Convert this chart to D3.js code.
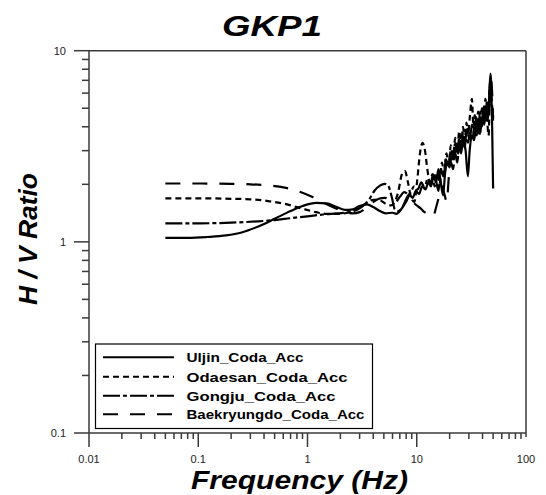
<!DOCTYPE html>
<html><head><meta charset="utf-8">
<script src="https://cdn.jsdelivr.net/npm/d3@7"></script>
<style>body{margin:0;background:#fff}svg{display:block}text{font-family:"Liberation Sans",Arial,sans-serif}</style>
</head><body>
<script>
const title = "GKP1";
const xLabel = "Frequency (Hz)";
const yLabel = "H / V Ratio";
const xTickVals = [0.01, 0.1, 1, 10, 100];
const xTickText = ["0.01", "0.1", "1", "10", "100"];
const yTickVals = [0.1, 1, 10];
const yTickText = ["0.1", "1", "10"];
const seriesNames = ["Uljin_Coda_Acc", "Odaesan_Coda_Acc", "Gongju_Coda_Acc", "Baekryungdo_Coda_Acc"];

const uljinF = [0.05,0.08,0.12,0.18,0.25,0.35,0.5,0.7,0.9,1.2,1.5,1.8,2.2,2.6,3.0,3.5,4.0,4.6,5.2,6.0,6.5,7.2,8.0,8.6,9.2,9.8,10.5,11.2,12,12.8,13.5,14.3,15,15.8,16.5,17.4,18.2,19,20,21,22,23,24,25,26,27,28,29.4,30.5,32,33.5,35,36.5,38,39.5,41,42.5,44,45.5,46.5,47.3,48,49,50];
const uljinV = [1.05,1.05,1.06,1.08,1.12,1.2,1.32,1.45,1.54,1.6,1.59,1.53,1.47,1.48,1.54,1.57,1.52,1.45,1.41,1.42,1.40,1.48,1.62,1.75,1.70,1.85,1.78,1.95,1.88,2.05,1.95,2.2,2.05,2.4,2.1,1.75,2.3,2.6,2.45,2.9,2.7,3.1,2.9,3.3,3.1,3.4,3.0,2.2,3.0,3.6,3.4,4.0,3.7,4.4,4.0,4.8,4.3,5.2,4.6,6.5,7.6,6.8,4.0,1.9];

const odaesanF = [0.05,0.1,0.2,0.3,0.45,0.65,0.9,1.2,1.5,1.9,2.3,2.7,3.1,3.5,4.0,4.6,5.2,5.8,6.3,6.8,7.3,7.8,8.3,8.9,9.5,10.1,10.7,11.3,11.9,12.5,13.2,13.9,14.6,15.4,16.2,17,17.8,18.7,19.6,20.5,21.5,22.5,23.5,24.5,25.5,26.5,27.5,28.5,29.5,30.5,32,33,34,35,36.5,38,39.5,41,42.5,44,45.5,47,48.5,50];
const odaesanV = [1.69,1.69,1.68,1.67,1.63,1.57,1.49,1.43,1.40,1.40,1.42,1.47,1.53,1.60,1.66,1.65,1.58,1.55,1.62,1.85,2.25,2.35,2.05,1.70,1.62,2.1,2.9,3.3,3.0,2.4,2.05,2.25,1.95,2.3,2.0,2.6,2.3,2.9,2.5,3.2,2.8,3.5,3.0,3.8,3.2,4.0,3.4,4.2,3.6,4.4,5.6,4.0,4.6,3.9,4.8,3.6,5.0,4.2,5.6,4.4,3.6,7.0,5.5,4.5];

const gongjuF = [0.05,0.1,0.2,0.35,0.5,0.7,1.0,1.4,1.9,2.4,2.9,3.3,3.7,4.1,4.6,5.1,5.5,5.9,6.3,6.8,7.4,8.1,8.8,9.5,10.2,11,11.8,12.6,13.4,14.2,15,15.8,16.6,17.5,18.5,19.5,20.5,21.5,22.5,23.5,24.5,25.5,26.5,27.5,29,30.5,32,33.5,35,36.5,38,39.5,41,42.5,44,45.5,47,48.5,50];
const gongjuV = [1.25,1.25,1.26,1.28,1.30,1.33,1.36,1.39,1.41,1.43,1.48,1.56,1.68,1.85,1.97,2.01,1.96,1.72,1.48,1.45,1.52,1.70,1.82,1.95,1.88,2.05,1.92,2.15,2.0,2.3,2.1,1.85,2.4,2.2,2.7,2.5,3.0,2.7,3.3,3.0,3.5,3.1,3.7,3.3,3.9,3.4,4.1,3.7,4.5,3.9,4.8,4.2,5.1,4.4,5.5,4.8,6.8,5.0,4.3];

const baekF = [0.05,0.1,0.2,0.3,0.45,0.65,0.85,1.1,1.4,1.8,2.2,2.6,3.0,3.4,3.9,4.5,5.1,5.7,6.3,7.0,7.7,8.4,9.2,10,10.8,11.6,12.5,13.4,14.3,15.2,16.1,17,17.9,18.8,19.7,20.6,21.5,22.5,23.5,24.5,25.5,26.5,27.5,28.5,29.5,31,32.5,34,35.5,37,38.5,40,41.5,43,44.5,46,47.5,49,50];
const baekV = [2.02,2.02,2.01,2.0,1.97,1.91,1.83,1.72,1.60,1.50,1.44,1.41,1.43,1.50,1.60,1.68,1.70,1.66,1.60,1.72,1.82,1.75,1.62,1.55,1.50,1.44,1.40,1.35,1.38,1.55,1.75,1.95,1.78,1.62,2.2,2.6,2.4,2.9,2.6,3.2,2.9,3.5,3.1,3.7,3.3,3.9,3.5,4.2,3.6,4.5,3.9,4.7,4.1,5.0,4.3,5.6,7.2,6.0,4.4];

const W = 546, H = 495;
const svg = d3.select("body").append("svg").attr("width", W).attr("height", H);
const x = d3.scaleLog().domain([0.01, 100]).range([89, 526]);
const y = d3.scaleLog().domain([0.1, 10]).range([433, 50.7]);

const series = [
  {name: seriesNames[0], f: uljinF, v: uljinV, dash: null},
  {name: seriesNames[1], f: odaesanF, v: odaesanV, dash: "6,4"},
  {name: seriesNames[2], f: gongjuF, v: gongjuV, dash: "17,3,4,3"},
  {name: seriesNames[3], f: baekF, v: baekV, dash: "15,12"}
];

const line = d3.line().x(d => x(d[0])).y(d => y(d[1])).curve(d3.curveMonotoneX);
series.forEach(s => {
  const pts = s.f.map((f, i) => [f, s.v[i]]);
  svg.append("path").attr("d", line(pts)).attr("fill", "none").attr("stroke", "#000")
    .attr("stroke-width", 2.2).attr("stroke-dasharray", s.dash).attr("stroke-linejoin", "round");
});

// frame
const axCol = "#3a3a3a";
const g = svg.append("g").attr("stroke", axCol).attr("stroke-width", 1.5);
g.append("line").attr("x1", 89).attr("x2", 526).attr("y1", y(10)).attr("y2", y(10));
g.append("line").attr("x1", 526).attr("x2", 526).attr("y1", y(10)).attr("y2", 437);
g.append("line").attr("x1", 89).attr("x2", 89).attr("y1", y(10)).attr("y2", 433);
g.append("line").attr("x1", 89).attr("x2", 526).attr("y1", 433).attr("y2", 433);

// y ticks
y.ticks().forEach(t => {
  const major = yTickVals.some(v => Math.abs(v - t) / v < 1e-6);
  g.append("line").attr("x1", major ? 74 : 82).attr("x2", 89).attr("y1", y(t)).attr("y2", y(t));
});
// x ticks
x.ticks().forEach(t => {
  const major = xTickVals.some(v => Math.abs(v - t) / v < 1e-6);
  if (t === 100) return;
  g.append("line").attr("x1", x(t)).attr("x2", x(t)).attr("y1", 433).attr("y2", major ? 447 : 439);
});

yTickVals.forEach((v, i) => {
  svg.append("text").attr("x", 66).attr("y", y(v)).attr("dy", "0.35em").attr("text-anchor", "end")
    .attr("font-size", 11).attr("fill", "#222").text(yTickText[i]);
});
xTickVals.forEach((v, i) => {
  svg.append("text").attr("x", x(v)).attr("y", 463).attr("text-anchor", "middle")
    .attr("font-size", 11).attr("fill", "#222").text(xTickText[i]);
});

svg.append("text").attr("x", 272).attr("y", 36).attr("text-anchor", "middle")
  .attr("font-size", 29).attr("font-weight", "bold").attr("font-style", "italic")
  .attr("textLength", 100).attr("lengthAdjust", "spacingAndGlyphs").text(title);
svg.append("text").attr("x", 299.5).attr("y", 489).attr("text-anchor", "middle")
  .attr("font-size", 25).attr("font-weight", "bold").attr("font-style", "italic")
  .attr("textLength", 217).attr("lengthAdjust", "spacingAndGlyphs").text(xLabel);
svg.append("text").attr("transform", "translate(36.5,239) rotate(-90)").attr("text-anchor", "middle")
  .attr("font-size", 26).attr("font-weight", "bold").attr("font-style", "italic")
  .attr("textLength", 132).attr("lengthAdjust", "spacingAndGlyphs").text(yLabel);

// legend
const lg = svg.append("g");
lg.append("rect").attr("x", 95.5).attr("y", 344).attr("width", 277).attr("height", 84.5)
  .attr("fill", "#fff").attr("stroke", "#000").attr("stroke-width", 1.2);
const rowY = [357.3, 376.7, 395.7, 414.3];
const textW = [117, 161, 149, 178];
series.forEach((s, i) => {
  lg.append("line").attr("x1", 103).attr("x2", 174).attr("y1", rowY[i]).attr("y2", rowY[i])
    .attr("stroke", "#000").attr("stroke-width", 2).attr("stroke-dasharray", s.dash);
  lg.append("text").attr("x", 186.5).attr("y", rowY[i]).attr("dy", "0.36em")
    .attr("font-size", 13.5).attr("font-weight", "bold").attr("textLength", textW[i])
    .attr("lengthAdjust", "spacingAndGlyphs").text(s.name);
});
</script>
</body></html>
